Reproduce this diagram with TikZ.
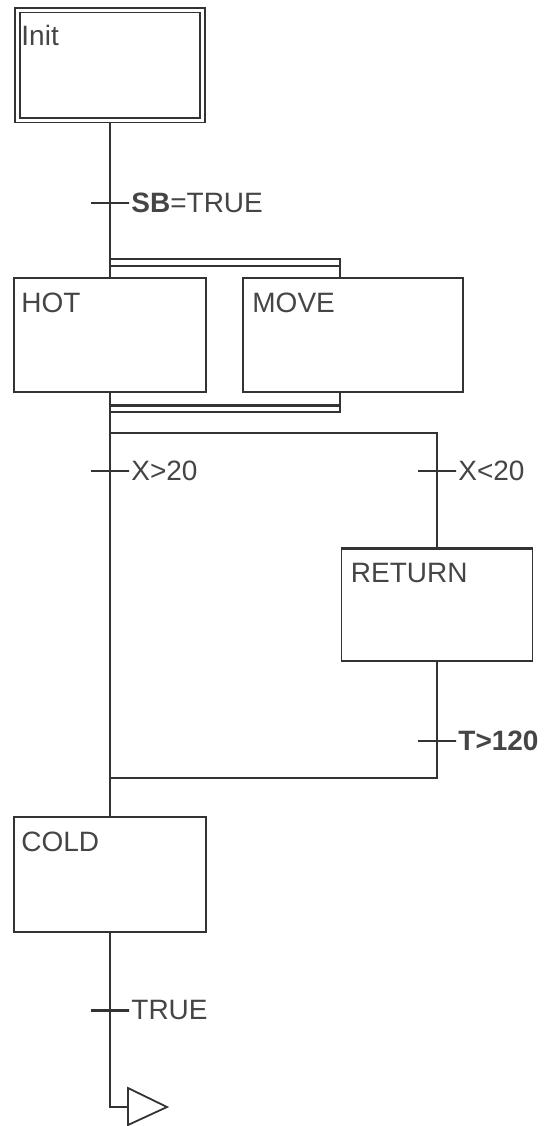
\documentclass[tikz,border=0pt]{standalone}
\usepackage{fontspec}
\setmainfont{Liberation Sans}
\usepackage{tikz}
\usetikzlibrary{positioning,calc}
\definecolor{ink}{HTML}{333333}
\definecolor{txt}{HTML}{454545}
\tikzset{
  stepbox/.style={draw=ink,line width=.9pt,rectangle,inner sep=0pt,outer sep=0pt,minimum width=96pt,minimum height=57pt},
  initstep/.style={stepbox,double,double distance=1.5pt,outer sep=1.6pt,minimum width=92.75pt,minimum height=55pt},
  steplbl/.style={anchor=north west,inner sep=0pt,xshift=3.5pt,yshift=-7.5pt,text=txt,font=\fontsize{14pt}{16pt}\selectfont},
  trans/.style={draw=ink,line width=.9pt,rectangle,inner sep=0pt,outer sep=0pt,minimum width=19pt,minimum height=0pt},
  translbl/.style={anchor=west,inner sep=0pt,label distance=1pt,text=txt,font=\fontsize{14pt}{16pt}\selectfont},
  wire/.style={draw=ink,line width=.9pt}
}
\begin{document}
\begin{tikzpicture}[x=.5pt,y=-.5pt]
  \useasboundingbox (0,0) rectangle (544,1126);
  % steps
  \node[initstep,label={[steplbl,yshift=-1.5pt]north west:Init}] (init) at (110,65) {};
  \node[stepbox,label={[steplbl]north west:HOT}] (hot) at (110,335) {};
  \node[stepbox,minimum width=110pt,label={[steplbl,xshift=1pt]north west:MOVE}] (move) at (353,335) {};
  \node[stepbox,minimum width=95.5pt,minimum height=56.5pt,label={[steplbl,xshift=1pt]north west:RETURN}] (ret) at (437,604.5) {};
  \node[stepbox,minimum height=57.5pt,label={[steplbl]north west:COLD}] (cold) at (110,874.5) {};
  % transitions
  \node[trans,label={[translbl]east:{\bfseries SB}=TRUE}] (t1) at (110,203) {};
  \node[trans,label={[translbl]east:X>20}] (t2) at (110,471) {};
  \node[trans,label={[translbl]east:X<20}] (t3) at (437,471) {};
  \node[trans,label={[translbl]east:\bfseries T>120}] (t4) at (437,741) {};
  \node[trans,line width=1.5pt,label={[translbl]east:TRUE}] (t5) at (110,1010) {};
  % bars
  \coordinate (sdtl) at (110,259);
  \coordinate (sdtr) at (340,259);
  \coordinate (sdbl) at (110,266);
  \coordinate (sdbr) at (340,266);
  \coordinate (sctl) at (110,405);
  \coordinate (sctr) at (340,405);
  \coordinate (scbl) at (110,412);
  \coordinate (scbr) at (340,412);
  \coordinate (sel) at (110,433);
  \coordinate (ser) at (437,433);
  \coordinate (conl) at (110,778);
  \coordinate (conr) at (437,778);
  \coordinate (jmp) at (128,1107);
  % wires
  \draw[wire] (init) -- (t1) -- (hot);
  \draw[wire] (sdtl) -- (sdtr) -- (sdtr |- move.north);
  \draw[wire] (sdbl) -- (sdbr);
  \draw[wire,line width=1.5pt] (sctl) -- (sctr);
  \draw[wire] (scbl) -- (scbr) -- (scbr |- move.south);
  \draw[wire] (hot) -- (t2) -- (cold);
  \draw[wire] (sel) -- (ser) -- (t3) -- (ret);
  \draw[wire,line width=1.5pt] (ret.north west) -- (ret.north east);
  \draw[wire] (ret) -- (t4) -- (conr) -- (conl);
  \draw[wire] (cold) -- (t5) -- (t5 |- jmp) -- (jmp);
  \draw[wire] (jmp) ++(0,-19) -- ++(39,19) -- ++(-39,18) -- cycle;
\end{tikzpicture}
\end{document}
